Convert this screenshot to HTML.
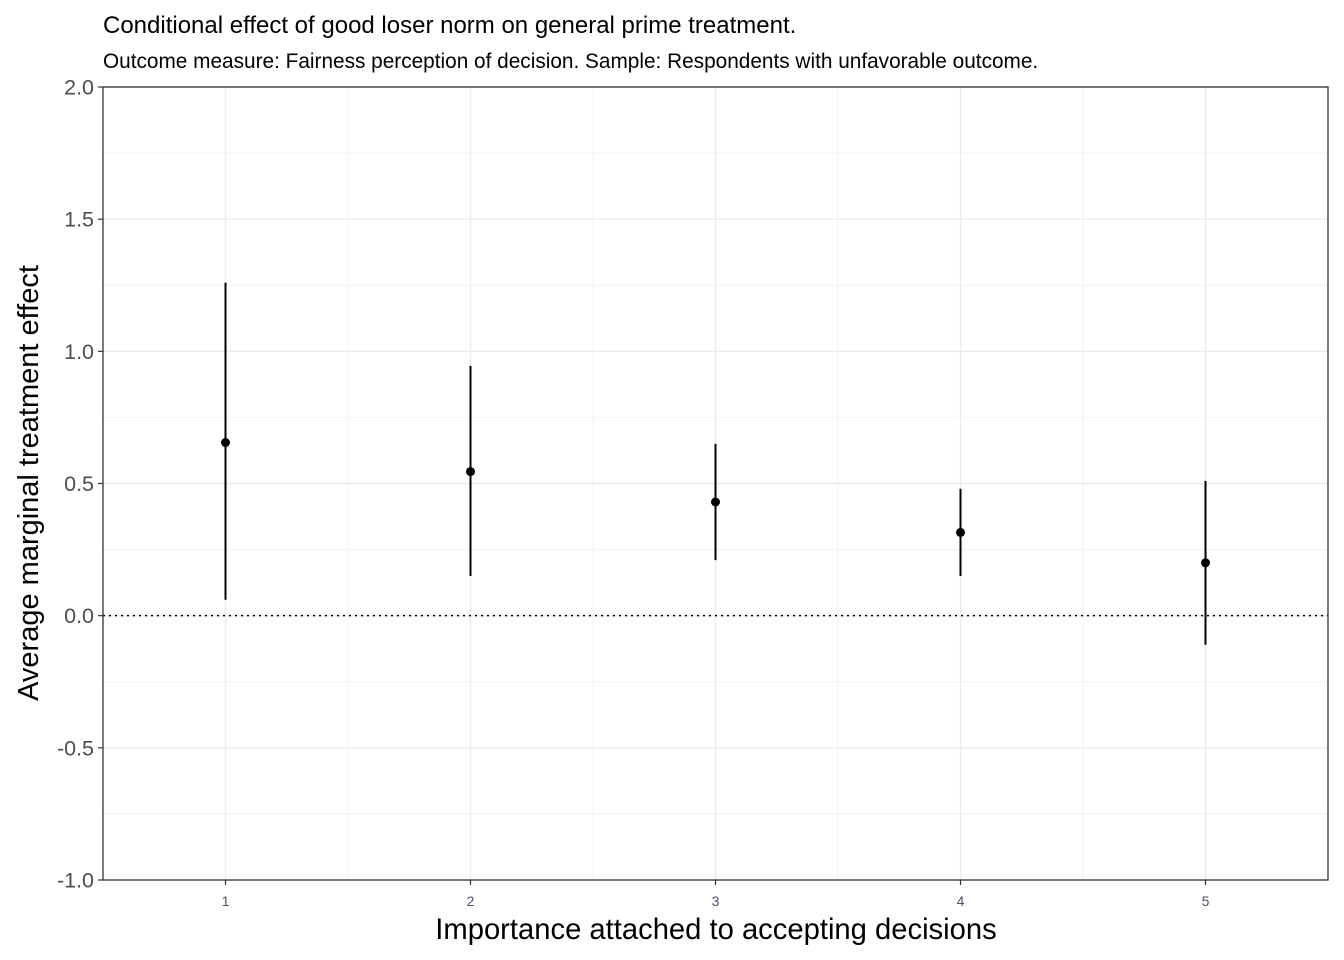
<!DOCTYPE html>
<html><head><meta charset="utf-8"><style>
body{margin:0;background:#fff;}
svg{display:block;font-family:"Liberation Sans",sans-serif;}
</style></head><body>
<svg id="chart" width="1344" height="960">
<text x="103" y="33" font-size="24" fill="#000">Conditional effect of good loser norm on general prime treatment.</text>
<text x="103" y="68" font-size="20.8" fill="#000">Outcome measure: Fairness perception of decision. Sample: Respondents with unfavorable outcome.</text>
<g id="grid"></g>
<g id="marks"></g>
<rect x="103" y="87" width="1225" height="793" fill="none" stroke="#333" stroke-width="1.3"/>
<g id="axes"></g>
<text x="716" y="939" font-size="29.2" text-anchor="middle" fill="#000">Importance attached to accepting decisions</text>
<text transform="translate(38,483) rotate(-90)" font-size="29" text-anchor="middle" fill="#000">Average marginal treatment effect</text>
</svg>
<script>
const categories=[1,2,3,4,5];
const estimates=[0.655,0.545,0.43,0.315,0.2];
const lowers=[0.06,0.15,0.21,0.15,-0.11];
const uppers=[1.26,0.945,0.65,0.48,0.51];
const yTicks=[-1.0,-0.5,0.0,0.5,1.0,1.5,2.0];
const yTickLabels=["-1.0","-0.5","0.0","0.5","1.0","1.5","2.0"];
const xTickLabels=["1","2","3","4","5"];
const X0=103,X1=1328,Y0=87,Y1=880;
const xs=v=>X0+(v-0.5)/5*(X1-X0);
const ys=v=>Y1-(v+1)/3*(Y1-Y0);
const NS="http://www.w3.org/2000/svg";
function mk(tag,attrs,parent,txt){const e=document.createElementNS(NS,tag);for(const k in attrs)e.setAttribute(k,attrs[k]);if(txt!==undefined)e.textContent=txt;parent.appendChild(e);return e;}
const grid=document.getElementById('grid'),marks=document.getElementById('marks'),axes=document.getElementById('axes');
for(let i=0;i<yTicks.length-1;i++){const v=(yTicks[i]+yTicks[i+1])/2;const l=mk('line',{x1:X0,x2:X1,y1:ys(v),y2:ys(v),stroke:'#f2f2f2','stroke-width':1},grid);

}
for(let i=0;i<categories.length-1;i++){const v=(categories[i]+categories[i+1])/2;const l=mk('line',{x1:xs(v),x2:xs(v),y1:Y0,y2:Y1,stroke:'#f2f2f2','stroke-width':1},grid);

}
yTicks.forEach((v,i)=>{const l=mk('line',{x1:X0,x2:X1,y1:ys(v),y2:ys(v),stroke:'#ebebeb','stroke-width':1.4},grid);


const t=mk('line',{x1:X0-5,x2:X0,y1:ys(v),y2:ys(v),stroke:'#333','stroke-width':1.2},axes);


const tx=mk('text',{x:X0-9,y:ys(v)+7.5,'font-size':21.5,'text-anchor':'end',fill:'#4d4d4d'},axes,yTickLabels[i]);

});
categories.forEach((c,i)=>{const l=mk('line',{x1:xs(c),x2:xs(c),y1:Y0,y2:Y1,stroke:'#ebebeb','stroke-width':1.4},grid);


const t=mk('line',{x1:xs(c),x2:xs(c),y1:Y1,y2:Y1+5,stroke:'#333','stroke-width':1.2},axes);


const tx=mk('text',{x:xs(c),y:Y1+26,'font-size':14,'text-anchor':'middle',fill:'#4d4d6d'},axes,xTickLabels[i]);

});
const zl=mk('line',{x1:X0,x2:X1,y1:ys(0),y2:ys(0),stroke:'#000','stroke-width':1.5,'stroke-dasharray':'2,4'},marks);


categories.forEach((c,i)=>{const l=mk('line',{x1:xs(c),x2:xs(c),y1:ys(lowers[i]),y2:ys(uppers[i]),stroke:'#000','stroke-width':2},marks);


const p=mk('circle',{cx:xs(c),cy:ys(estimates[i]),r:4.5,fill:'#000'},marks);

});
</script>
</body></html>
